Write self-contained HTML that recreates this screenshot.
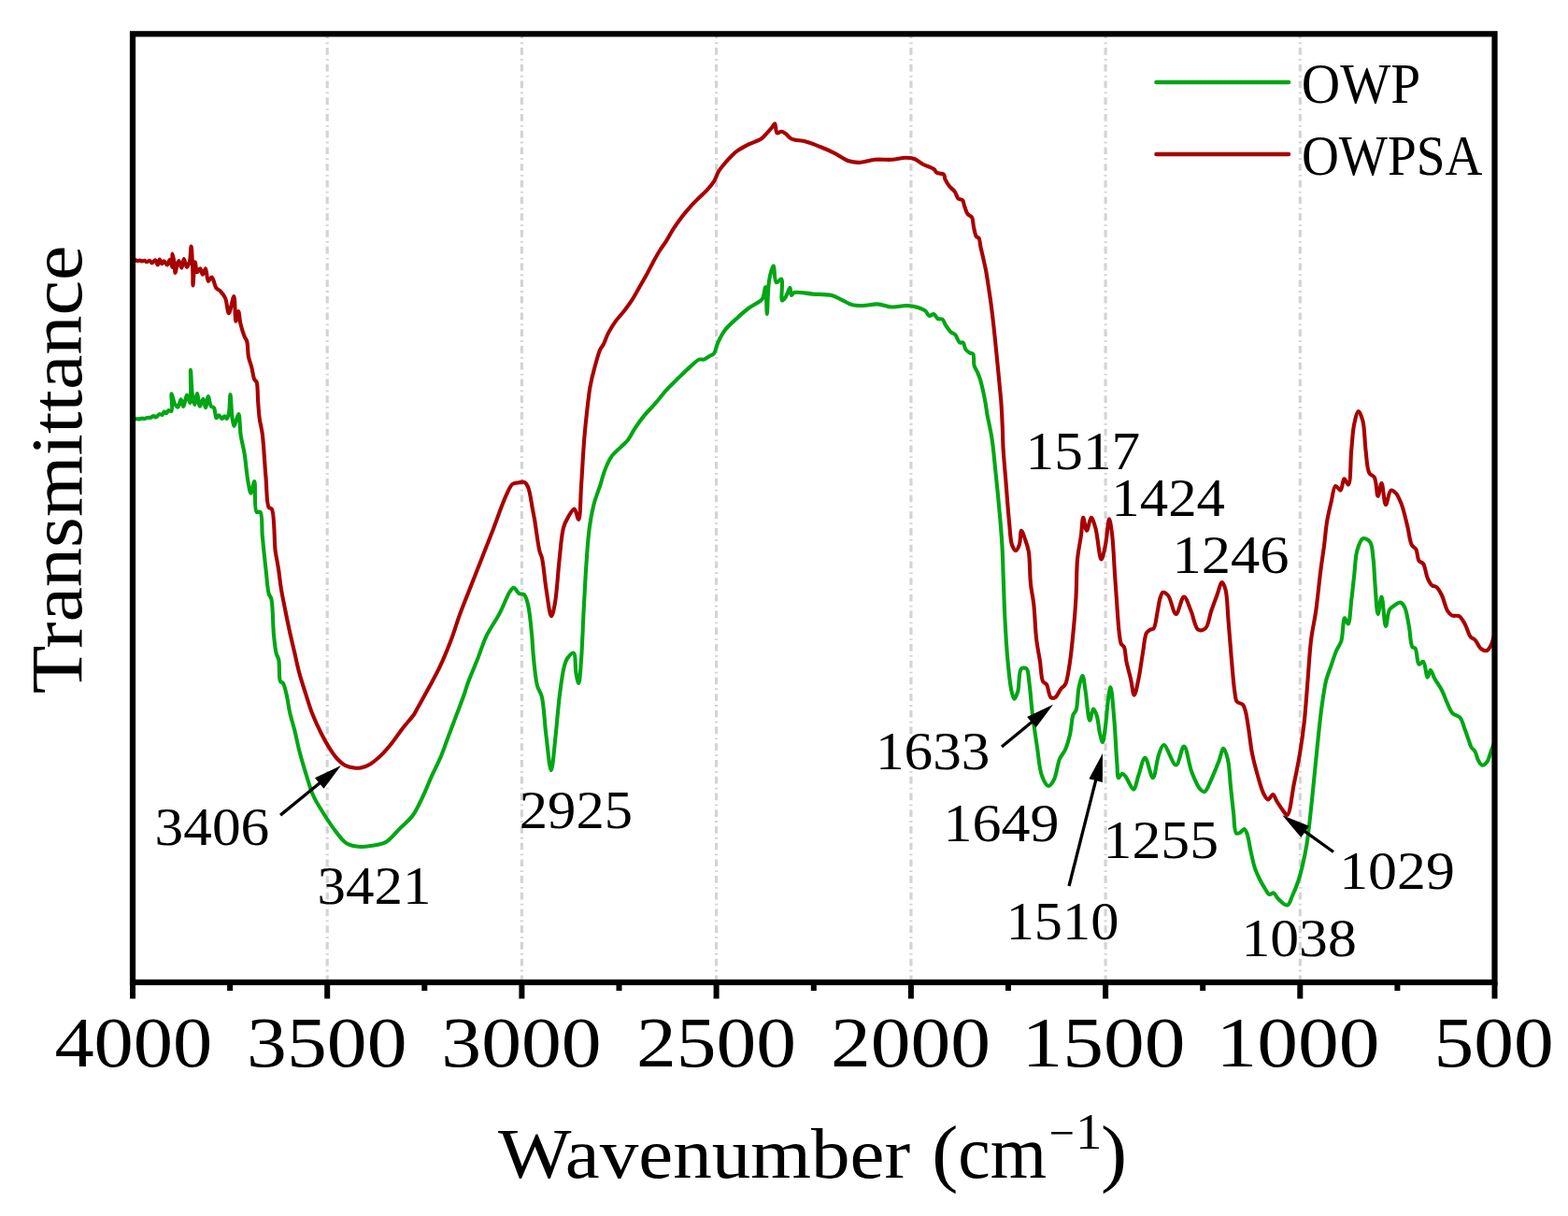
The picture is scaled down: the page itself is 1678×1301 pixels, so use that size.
<!DOCTYPE html>
<html><head><meta charset="utf-8"><title>FTIR spectra</title>
<style>html,body{margin:0;padding:0;background:#fff;}svg{display:block;}
text{font-family:"Liberation Serif","DejaVu Serif",serif;fill:#000;}</style></head>
<body>
<svg width="1678" height="1301" viewBox="0 0 1678 1301">
<rect width="1678" height="1301" fill="#fff"/>
<g stroke="#d4d4d4" stroke-width="3.2" stroke-dasharray="7.7 4.2 1.8 4.02">
<line x1="350.2" y1="33.38" x2="350.2" y2="1048"/>
<line x1="558.4" y1="33.38" x2="558.4" y2="1048"/>
<line x1="766.6" y1="33.38" x2="766.6" y2="1048"/>
<line x1="974.9" y1="33.38" x2="974.9" y2="1048"/>
<line x1="1183.1" y1="33.38" x2="1183.1" y2="1048"/>
<line x1="1391.3" y1="33.38" x2="1391.3" y2="1048"/>
</g>
<path fill="none" stroke="#00a614" stroke-width="4.1" stroke-linejoin="round" stroke-linecap="round" d="M142.5,449.0 C143.5,448.7 144.6,448.2 145.6,448.1 C146.6,448.1 147.6,448.5 148.5,448.4 C149.6,448.4 150.7,447.6 151.7,447.6 C152.7,447.5 153.7,448.0 154.7,447.9 C155.9,447.8 157.1,446.9 158.3,446.8 C159.2,446.6 160.0,447.1 160.9,446.9 C162.0,446.6 163.4,445.0 164.5,445.1 C165.3,445.1 165.8,446.6 166.6,446.5 C167.8,446.5 169.2,443.5 170.5,443.1 C171.5,442.8 172.8,444.2 173.7,443.8 C174.6,443.4 175.0,440.7 175.8,440.5 C176.5,440.4 177.3,442.3 178.0,442.2 C178.9,442.1 179.5,439.4 180.5,439.0 C181.4,438.8 182.8,440.4 183.5,439.8 C185.2,438.5 182.7,421.5 183.6,421.4 C184.3,421.3 185.6,429.6 187.1,432.2 C188.1,433.8 189.4,435.9 190.3,435.7 C191.7,435.5 192.6,427.3 193.6,427.3 C194.6,427.4 195.3,434.9 196.2,434.9 C197.4,434.9 198.8,422.6 200.1,422.5 C201.2,422.5 202.7,431.3 203.5,431.2 C205.0,430.9 203.5,395.7 204.0,395.7 C204.4,395.7 204.9,417.5 206.0,424.2 C206.6,428.0 207.5,433.0 208.2,433.0 C209.1,433.0 210.2,421.0 211.1,421.0 C212.0,421.1 212.6,434.5 213.9,434.6 C214.9,434.8 216.5,426.8 217.5,426.9 C218.6,427.0 219.1,436.2 220.0,436.2 C220.9,436.2 221.9,424.1 222.9,424.1 C223.8,424.1 224.3,432.4 225.7,434.4 C226.6,435.6 228.1,435.3 229.0,436.5 C230.4,438.6 230.3,447.0 231.5,447.3 C232.3,447.5 233.3,444.4 234.2,444.4 C235.3,444.4 236.7,448.1 237.7,448.0 C238.6,448.0 239.4,445.2 240.3,445.2 C241.0,445.2 241.8,448.0 242.5,447.9 C243.4,447.7 244.3,444.9 244.9,442.4 C246.0,437.8 245.9,422.0 246.5,422.0 C247.1,422.0 247.6,440.8 248.5,447.0 C249.1,450.8 249.7,455.9 250.5,456.0 C251.2,456.0 252.2,451.2 253.0,449.0 C253.8,446.9 254.7,442.9 255.4,443.0 C256.7,443.2 256.6,458.8 257.7,466.0 C258.7,472.6 260.3,477.6 261.5,484.6 C263.0,493.5 263.9,507.1 265.4,515.0 C266.4,520.2 267.4,527.7 268.5,527.7 C269.7,527.7 271.3,514.9 272.3,515.0 C273.8,515.2 271.6,544.9 274.6,547.7 C275.6,548.7 277.5,546.8 278.5,547.7 C281.1,550.1 279.9,564.2 280.8,573.8 C282.0,585.8 283.7,602.8 285.0,614.1 C285.9,622.3 286.3,630.7 287.7,635.3 C288.4,637.7 289.6,637.9 290.3,640.6 C292.2,647.5 291.9,668.8 293.0,679.5 C293.8,687.1 294.4,694.1 295.6,698.9 C296.4,701.9 297.6,702.9 298.3,706.0 C299.5,711.4 298.1,725.8 300.0,729.0 C300.7,730.2 301.9,729.7 302.7,730.7 C304.2,732.6 305.1,737.0 306.2,741.3 C307.8,747.5 309.0,757.4 310.6,764.3 C312.0,770.1 313.5,774.4 315.0,780.2 C316.8,787.1 318.3,795.4 320.3,803.2 C322.4,811.3 324.9,819.8 327.4,827.9 C329.9,835.9 332.1,844.3 335.4,851.5 C338.4,858.2 342.2,863.9 346.0,870.0 C349.9,876.2 354.2,882.9 358.5,888.5 C362.5,893.6 366.0,899.4 370.8,902.3 C375.2,905.0 381.0,905.7 386.0,906.0 C390.7,906.3 395.4,905.5 400.0,904.6 C404.7,903.7 409.5,903.0 413.8,900.4 C418.8,897.4 423.1,891.2 427.7,886.6 C432.3,882.0 437.5,878.2 441.5,872.8 C445.9,866.8 449.2,859.1 452.6,852.0 C456.1,844.8 458.9,837.1 462.2,829.9 C465.4,822.9 468.9,816.3 471.9,809.2 C474.9,802.0 477.4,794.4 480.2,787.0 C483.0,779.6 485.7,772.3 488.5,764.9 C491.3,757.5 494.6,749.1 496.8,742.8 C498.4,738.1 499.0,735.3 500.8,730.5 C503.4,723.3 508.1,712.6 511.5,704.0 C514.7,695.8 517.0,687.7 520.8,679.9 C524.7,671.9 530.4,664.3 534.6,656.4 C538.7,648.7 542.6,637.4 545.7,632.9 C547.2,630.8 548.3,628.7 549.8,628.7 C551.5,628.7 553.3,633.8 555.4,635.0 C557.1,636.0 559.4,635.0 560.9,636.3 C563.0,638.1 563.8,642.2 565.0,646.7 C567.0,654.6 568.3,670.6 569.2,679.9 C569.9,686.5 569.7,690.2 570.4,697.0 C571.4,707.0 572.7,725.2 575.0,733.8 C576.3,738.7 578.4,740.0 579.7,745.0 C582.1,754.2 582.6,772.2 584.3,785.5 C586.0,798.6 588.1,824.2 589.8,824.2 C591.4,824.2 593.0,801.5 594.4,789.0 C596.0,774.7 597.2,756.6 599.0,743.0 C600.4,732.1 601.8,720.5 603.7,713.5 C604.8,709.5 605.5,706.8 607.3,704.3 C609.0,702.0 612.2,698.1 613.8,698.7 C616.3,699.7 615.4,715.1 616.6,721.0 C617.4,725.0 618.5,731.1 619.3,731.0 C620.5,730.9 621.2,715.9 622.0,706.0 C623.1,691.8 623.7,671.3 624.6,653.8 C625.6,636.0 626.5,616.1 627.7,600.0 C628.6,587.0 629.3,575.3 630.8,564.6 C632.0,555.6 633.4,547.8 635.4,540.0 C637.3,532.6 640.4,525.3 642.5,518.7 C644.3,513.0 645.3,507.8 647.4,502.7 C649.4,497.6 651.8,492.1 654.8,487.9 C657.6,484.0 661.6,481.1 664.6,478.1 C667.2,475.5 669.7,473.6 672.0,470.7 C674.7,467.3 676.7,462.5 679.4,458.4 C682.4,453.9 685.6,449.3 689.2,444.9 C693.0,440.3 697.4,436.0 701.5,431.3 C705.6,426.5 709.6,421.2 713.8,416.6 C717.8,412.2 722.0,408.3 726.1,404.3 C730.2,400.3 734.5,396.1 738.4,392.6 C741.8,389.6 745.3,385.6 748.2,384.6 C750.0,384.0 751.5,385.1 753.2,384.6 C755.2,384.0 757.4,382.0 759.3,380.9 C760.9,380.0 762.5,380.0 763.8,378.5 C765.9,376.1 766.5,370.1 768.5,366.0 C770.6,361.6 772.8,357.2 776.0,353.0 C779.7,348.2 785.6,343.3 790.0,339.2 C793.8,335.7 797.0,332.8 800.8,330.0 C804.6,327.2 810.3,324.4 813.0,322.3 C814.5,321.1 815.3,320.8 816.2,319.2 C817.7,316.6 818.5,306.9 819.2,307.0 C820.3,307.1 820.2,336.0 820.8,336.0 C821.5,336.0 821.4,310.2 823.0,300.8 C824.1,294.3 826.4,284.5 827.7,284.6 C829.0,284.7 828.6,301.4 830.8,302.3 C832.2,302.9 835.0,297.9 836.2,298.5 C838.5,299.6 835.1,320.8 837.0,321.5 C837.9,321.9 839.6,319.4 840.8,317.7 C842.5,315.3 844.4,307.6 845.4,307.7 C846.3,307.8 845.8,315.7 846.9,316.0 C847.7,316.2 848.3,313.6 850.0,313.0 C853.6,311.7 863.3,314.1 870.0,314.6 C876.7,315.1 884.5,314.6 890.0,316.0 C894.3,317.1 897.2,319.1 900.8,320.8 C904.4,322.5 907.7,325.0 911.5,326.0 C915.4,327.1 919.5,327.0 923.8,327.0 C928.6,326.9 934.1,325.2 939.2,325.4 C944.4,325.6 949.5,328.3 954.6,328.5 C959.5,328.7 964.9,327.0 969.2,327.0 C972.6,327.0 975.3,327.2 978.5,328.0 C982.2,328.9 987.2,330.4 990.0,332.4 C992.1,333.9 992.9,337.5 994.6,337.9 C996.0,338.3 997.8,335.8 999.2,336.1 C1000.9,336.5 1002.1,340.2 1003.8,341.1 C1005.2,341.8 1007.2,340.7 1008.5,341.6 C1010.1,342.7 1010.7,345.9 1012.1,348.1 C1013.7,350.5 1015.8,353.7 1017.7,355.4 C1019.2,356.7 1020.9,356.8 1022.3,358.2 C1024.1,360.1 1025.1,365.4 1026.9,366.5 C1028.0,367.2 1029.6,365.8 1030.6,366.5 C1032.1,367.5 1032.0,372.0 1033.4,373.9 C1034.6,375.5 1036.5,376.8 1038.0,377.6 C1039.1,378.2 1040.4,377.6 1041.2,378.5 C1042.8,380.3 1041.5,387.8 1042.6,391.4 C1043.5,394.3 1045.2,396.3 1046.3,398.8 C1047.3,401.2 1048.2,403.5 1049.0,406.2 C1050.0,409.5 1050.9,413.4 1051.8,417.3 C1052.8,421.6 1053.8,426.7 1054.6,431.1 C1055.3,435.2 1055.6,438.3 1056.4,443.1 C1057.6,450.1 1060.1,459.8 1061.5,469.2 C1063.2,480.1 1064.1,492.6 1065.4,504.6 C1066.7,517.1 1068.1,530.2 1069.2,543.0 C1070.4,555.8 1071.5,568.7 1072.3,581.5 C1073.1,594.3 1073.3,606.9 1073.8,620.0 C1074.3,633.6 1074.7,647.3 1075.4,661.5 C1076.2,676.5 1077.2,693.9 1078.5,707.7 C1079.6,719.0 1080.7,731.3 1082.3,738.5 C1083.2,742.5 1084.2,747.6 1085.4,747.7 C1086.5,747.8 1088.1,743.4 1089.2,740.0 C1091.0,734.2 1089.9,718.0 1093.0,715.4 C1094.4,714.2 1097.1,714.3 1098.5,715.4 C1100.8,717.3 1100.6,724.8 1101.5,730.8 C1102.7,739.3 1103.5,752.0 1104.6,761.5 C1105.6,769.8 1106.7,777.7 1107.7,784.6 C1108.5,790.3 1109.1,794.0 1110.0,800.0 C1111.3,808.4 1112.2,822.7 1115.0,830.0 C1116.8,834.8 1119.6,840.8 1122.0,841.0 C1124.0,841.1 1126.3,837.2 1128.0,834.0 C1130.7,828.9 1131.5,817.8 1134.0,812.0 C1135.8,807.9 1138.3,805.8 1140.0,802.0 C1142.1,797.4 1143.6,791.8 1145.0,786.0 C1146.6,779.4 1146.8,769.0 1148.5,764.6 C1149.4,762.4 1150.7,762.3 1151.5,760.0 C1153.3,755.2 1153.1,742.2 1154.6,735.4 C1155.7,730.5 1157.4,722.9 1158.5,723.0 C1159.7,723.1 1160.5,732.4 1161.5,738.5 C1163.0,747.3 1164.4,770.7 1166.2,770.8 C1167.4,770.9 1168.6,758.6 1170.0,758.5 C1171.2,758.4 1172.8,762.8 1173.8,766.0 C1175.4,770.7 1175.7,779.5 1177.0,784.6 C1177.9,788.3 1179.1,794.1 1180.0,794.0 C1181.2,793.9 1182.1,783.5 1183.0,777.0 C1184.2,768.3 1185.0,753.8 1186.2,746.2 C1186.9,741.7 1187.7,735.4 1188.5,735.4 C1189.8,735.5 1191.2,756.9 1192.3,769.2 C1193.6,783.7 1194.4,805.5 1195.4,817.0 C1196.0,823.5 1195.5,831.9 1197.0,832.3 C1197.9,832.6 1199.5,827.8 1200.8,827.7 C1202.0,827.6 1203.2,829.2 1204.6,830.8 C1207.1,833.6 1210.7,844.8 1213.0,844.6 C1215.3,844.4 1216.5,834.6 1218.5,829.2 C1220.6,823.3 1223.0,810.8 1225.4,810.8 C1228.0,810.8 1231.4,832.5 1233.8,832.3 C1236.3,832.1 1237.6,814.1 1240.0,807.7 C1241.6,803.3 1243.1,797.1 1245.4,797.0 C1248.7,796.9 1254.8,818.8 1258.5,818.5 C1261.9,818.3 1264.4,798.4 1267.0,798.5 C1270.1,798.7 1272.1,818.0 1275.4,826.2 C1278.1,833.1 1281.5,841.5 1284.6,844.6 C1286.1,846.2 1287.7,847.5 1289.2,847.0 C1291.9,846.2 1294.5,837.5 1297.0,832.3 C1299.7,826.5 1302.4,819.4 1304.6,813.8 C1306.4,809.1 1307.6,800.8 1309.2,800.8 C1310.7,800.8 1312.6,807.3 1313.8,812.0 C1315.7,819.4 1316.0,831.8 1317.0,841.5 C1318.0,850.9 1318.9,860.5 1320.0,869.2 C1321.0,877.0 1320.5,889.7 1323.0,891.5 C1324.1,892.3 1325.7,891.4 1327.0,890.8 C1328.6,890.1 1330.2,886.8 1331.5,887.0 C1332.8,887.2 1333.7,889.9 1334.6,892.3 C1336.2,896.5 1337.1,904.7 1338.5,910.8 C1339.9,917.0 1341.2,923.9 1343.0,929.2 C1344.4,933.3 1345.9,936.4 1347.7,940.0 C1349.5,943.6 1351.8,947.8 1353.8,950.8 C1355.4,953.2 1356.7,956.5 1358.5,957.0 C1359.9,957.4 1361.6,955.0 1363.0,955.4 C1364.8,955.9 1365.7,959.5 1367.7,961.5 C1370.3,964.0 1375.1,969.1 1377.7,968.5 C1380.2,967.9 1381.3,962.2 1383.0,958.5 C1385.1,953.9 1387.4,948.3 1389.2,943.0 C1391.0,937.6 1392.4,932.3 1393.8,926.2 C1395.5,919.1 1397.0,912.3 1398.5,903.0 C1400.7,889.1 1402.7,868.0 1404.5,850.9 C1406.3,834.3 1407.7,817.7 1409.4,801.7 C1411.0,786.5 1412.5,770.6 1414.3,757.3 C1415.8,746.4 1417.2,735.8 1419.2,727.7 C1420.7,721.9 1422.4,718.1 1424.2,713.0 C1426.1,707.5 1428.2,700.7 1430.3,695.8 C1431.9,692.0 1434.0,690.1 1435.3,686.0 C1437.3,679.8 1437.1,661.7 1439.0,661.3 C1440.0,661.1 1441.7,667.6 1442.7,667.4 C1444.7,667.0 1445.2,650.2 1446.3,641.6 C1447.4,632.9 1448.2,624.1 1449.2,615.4 C1450.2,606.7 1450.3,596.3 1452.3,589.2 C1453.8,584.0 1455.7,577.2 1458.5,576.2 C1460.6,575.5 1464.4,577.6 1466.2,580.0 C1468.8,583.4 1468.7,590.6 1469.5,597.0 C1470.6,605.1 1470.7,615.4 1471.5,625.0 C1472.4,635.3 1473.2,656.9 1474.6,657.0 C1475.7,657.1 1477.3,638.5 1478.5,638.5 C1480.1,638.6 1481.3,669.9 1483.0,670.0 C1484.2,670.1 1484.7,656.1 1487.0,652.3 C1488.4,649.9 1490.4,649.0 1492.3,647.7 C1494.2,646.4 1496.7,644.3 1498.5,644.6 C1500.2,644.9 1501.7,646.9 1503.0,649.2 C1505.3,653.3 1506.3,662.3 1507.7,669.2 C1509.2,676.6 1509.2,689.2 1511.5,692.3 C1512.4,693.5 1513.7,692.7 1514.6,693.8 C1516.6,696.3 1516.3,710.0 1518.5,710.8 C1519.7,711.3 1521.7,707.2 1523.0,707.7 C1525.3,708.5 1526.2,724.5 1527.7,724.6 C1528.7,724.7 1529.6,717.0 1530.8,717.0 C1532.1,716.9 1533.6,723.0 1535.4,726.2 C1537.5,730.0 1540.8,734.2 1543.0,738.5 C1545.3,743.0 1547.0,748.4 1549.0,752.7 C1550.7,756.4 1551.7,760.2 1554.1,762.8 C1556.3,765.2 1560.5,765.5 1562.6,767.9 C1564.8,770.5 1565.4,774.3 1566.8,778.0 C1568.5,782.4 1570.5,788.5 1571.9,792.4 C1572.9,795.1 1573.2,797.2 1574.4,799.2 C1575.5,801.1 1577.4,802.2 1578.6,804.2 C1580.1,806.7 1580.5,811.0 1582.0,813.5 C1583.2,815.6 1584.6,818.4 1586.2,818.6 C1587.7,818.8 1589.9,817.0 1591.3,815.2 C1593.3,812.8 1594.2,807.7 1595.5,804.2 C1596.7,801.0 1597.8,798.1 1598.9,795.0"/>
<path fill="none" stroke="#a80000" stroke-width="4.1" stroke-linejoin="round" stroke-linecap="round" d="M142.5,278.7 C143.2,278.5 144.0,278.0 144.7,278.1 C145.4,278.2 146.0,279.2 146.8,279.3 C147.6,279.4 148.5,278.6 149.4,278.6 C150.3,278.6 151.3,279.4 152.2,279.4 C153.1,279.5 154.1,278.6 154.9,278.8 C155.7,278.9 156.2,280.2 157.0,280.3 C157.9,280.4 159.4,278.7 160.3,278.9 C161.3,279.1 161.8,281.4 162.7,281.4 C163.7,281.5 165.2,278.1 166.2,278.3 C167.3,278.5 168.1,283.6 168.8,283.5 C169.6,283.5 170.1,277.7 170.9,277.6 C171.6,277.6 172.5,282.3 173.3,282.3 C174.0,282.4 174.7,279.3 175.5,279.2 C176.5,279.2 177.8,283.5 178.8,283.4 C179.9,283.3 180.9,277.8 181.8,277.9 C182.8,278.0 183.8,285.9 184.3,285.9 C185.0,285.8 184.1,271.5 184.6,271.5 C185.0,271.5 185.9,277.1 186.4,280.3 C186.9,283.9 187.0,292.0 187.5,292.0 C187.8,292.0 188.2,289.1 188.7,287.4 C189.4,285.0 190.4,279.1 191.4,279.1 C192.3,279.0 193.5,286.8 194.3,286.7 C195.3,286.6 195.8,277.1 196.8,277.0 C197.7,277.0 198.8,285.9 199.9,285.9 C200.9,286.0 202.1,282.5 202.9,279.9 C204.0,275.9 204.1,263.5 204.6,263.5 C205.3,263.5 206.0,283.3 206.3,291.0 C206.5,296.5 206.2,305.4 206.5,305.4 C206.9,305.4 207.8,280.3 208.7,280.3 C209.4,280.2 209.7,291.0 210.9,291.3 C211.7,291.5 213.2,287.2 214.1,287.3 C215.2,287.4 215.9,293.8 216.9,293.8 C217.9,293.8 219.1,287.2 220.0,287.3 C221.2,287.5 221.4,300.5 222.9,300.9 C223.9,301.1 225.4,296.3 226.6,296.5 C228.4,296.8 229.5,305.8 231.5,308.3 C232.8,309.9 234.4,310.1 235.8,311.5 C237.6,313.4 239.7,315.9 241.1,319.0 C243.0,323.2 243.4,335.2 244.9,335.2 C246.5,335.2 249.1,316.9 250.3,317.0 C251.8,317.2 251.3,343.7 252.4,343.8 C253.1,343.9 254.3,333.0 255.1,333.0 C256.0,333.0 256.3,341.6 257.3,346.0 C258.4,350.6 260.2,356.5 261.6,360.0 C262.5,362.3 263.6,363.0 264.3,365.4 C265.4,369.3 265.0,376.7 265.9,381.5 C266.7,385.5 268.1,388.5 269.1,392.3 C270.3,396.6 271.0,403.8 272.4,406.3 C273.0,407.4 273.9,407.2 274.5,408.4 C276.0,411.6 275.6,422.2 276.1,428.9 C276.6,435.3 276.9,441.6 277.7,447.7 C278.5,453.5 279.9,457.5 280.8,464.6 C282.3,476.4 283.3,497.9 284.6,512.0 C285.6,523.4 285.1,539.2 287.7,543.0 C288.6,544.3 289.9,543.3 290.8,544.6 C294.0,549.3 293.3,579.2 294.6,589.0 C295.2,593.9 295.9,596.4 296.5,600.0 C297.1,603.6 297.7,606.5 298.3,610.6 C299.1,616.1 299.8,623.3 300.9,630.0 C302.1,637.4 303.8,645.5 305.3,653.0 C306.7,660.2 308.1,667.0 309.7,674.2 C311.3,681.7 313.2,689.5 315.0,697.2 C316.8,704.8 318.2,712.5 320.3,720.1 C322.4,727.8 325.0,735.6 327.4,743.1 C329.7,750.3 331.8,757.5 334.5,764.3 C337.1,771.0 340.2,777.6 343.3,783.7 C346.1,789.3 349.0,794.7 352.1,799.6 C354.9,804.1 357.8,808.6 361.0,812.0 C363.8,814.9 366.5,817.5 369.8,819.1 C373.0,820.7 377.3,821.4 380.4,821.7 C382.8,821.9 384.7,821.8 387.0,821.2 C389.9,820.5 393.2,819.3 396.3,817.4 C400.1,815.1 404.3,811.5 408.0,807.9 C412.0,804.0 415.8,799.4 419.6,794.7 C423.6,789.7 427.3,783.8 431.3,778.7 C435.1,773.8 440.4,768.3 443.0,764.5 C444.5,762.3 444.8,761.3 446.2,758.8 C449.0,753.8 454.4,744.1 458.5,736.6 C462.6,728.9 466.9,721.5 470.8,713.2 C475.1,704.0 479.5,693.2 483.1,683.7 C486.4,675.0 488.8,666.5 491.7,658.5 C494.4,651.0 496.9,645.0 500.0,637.0 C504.0,626.7 509.2,613.7 513.8,602.0 C518.4,590.2 523.1,578.3 527.7,566.4 C532.3,554.4 537.4,539.2 541.5,530.4 C544.0,525.1 545.7,520.1 548.4,518.0 C550.1,516.7 552.0,516.8 554.0,516.5 C556.2,516.1 559.0,515.1 560.9,515.9 C562.7,516.6 563.8,518.3 565.0,520.8 C567.3,525.6 568.7,538.6 570.0,545.0 C570.8,549.2 571.2,550.9 572.0,555.4 C573.4,563.6 575.7,582.9 577.5,590.0 C578.3,593.2 579.2,593.7 580.0,596.9 C581.7,603.9 582.8,620.0 584.6,630.8 C586.2,640.7 588.2,659.1 590.0,659.2 C591.3,659.3 592.7,651.8 593.8,646.0 C595.9,635.4 596.9,614.3 598.5,600.0 C599.9,587.4 600.7,572.9 603.0,564.6 C604.3,559.8 605.8,557.2 607.7,553.8 C609.6,550.5 612.7,544.4 614.6,544.6 C616.6,544.9 618.0,556.2 619.2,556.0 C621.2,555.7 621.1,533.1 622.0,520.0 C623.1,504.2 624.1,482.8 625.4,467.7 C626.4,456.1 627.4,446.5 628.5,437.0 C629.5,428.7 630.2,421.2 631.5,413.8 C632.8,406.9 634.4,400.4 636.2,393.8 C638.0,387.1 640.3,378.1 642.3,373.8 C643.4,371.5 644.4,371.1 645.5,369.0 C647.2,365.8 648.9,360.2 651.1,356.1 C653.3,351.9 655.8,347.9 658.5,344.1 C661.3,340.2 664.7,336.9 667.7,333.0 C670.8,328.9 674.1,324.5 676.9,320.1 C679.6,315.9 681.8,311.5 684.3,307.2 C686.8,302.9 689.3,298.7 691.7,294.3 C694.2,289.8 696.5,284.9 699.0,280.4 C701.4,276.0 703.9,271.4 706.4,267.5 C708.5,264.1 710.6,261.6 712.8,258.1 C715.4,254.0 718.2,248.7 721.1,244.2 C724.0,239.8 727.2,235.4 730.3,231.3 C733.3,227.4 736.4,223.8 739.5,220.3 C742.5,217.0 745.6,214.1 748.7,211.0 C751.8,207.9 755.3,204.9 758.0,201.8 C760.4,199.0 762.6,196.5 764.4,193.5 C766.3,190.4 767.2,186.4 769.0,183.4 C770.6,180.6 772.5,178.5 774.6,176.0 C776.8,173.3 779.5,170.2 782.0,167.7 C784.4,165.3 786.5,163.2 789.3,161.2 C792.6,158.8 796.7,156.7 800.8,154.6 C805.1,152.4 811.1,150.9 814.6,148.5 C817.3,146.7 818.8,144.4 820.8,142.3 C822.7,140.3 824.7,138.0 826.2,136.2 C827.4,134.8 828.4,132.1 829.2,132.3 C830.4,132.6 829.9,141.4 831.5,142.3 C832.6,143.0 834.7,140.7 836.2,140.8 C837.8,140.9 839.2,142.0 840.8,143.0 C842.8,144.3 844.2,147.1 846.9,148.5 C850.7,150.4 857.2,150.1 862.3,151.5 C867.5,152.9 872.6,155.0 877.7,157.0 C882.8,159.1 887.9,161.3 893.0,163.8 C898.2,166.4 903.5,170.7 908.5,172.3 C912.7,173.7 916.5,174.0 920.8,173.8 C925.7,173.6 930.8,171.3 936.2,170.8 C942.0,170.2 948.8,171.2 954.6,170.8 C959.8,170.4 964.9,168.8 969.2,168.8 C972.6,168.8 975.5,168.9 978.5,170.0 C981.7,171.2 984.4,174.0 987.7,175.8 C991.3,177.7 997.1,179.1 999.6,181.1 C1001.1,182.3 1001.0,183.9 1002.4,184.8 C1004.2,186.0 1008.3,185.2 1009.8,186.6 C1011.1,187.8 1010.7,190.2 1011.6,192.1 C1012.7,194.4 1014.4,197.3 1016.2,199.5 C1017.9,201.6 1020.3,203.0 1021.8,205.1 C1023.3,207.3 1023.8,210.9 1025.4,212.4 C1026.7,213.6 1029.0,213.1 1030.1,214.3 C1031.3,215.5 1031.2,217.7 1031.9,219.8 C1032.9,222.5 1033.9,226.8 1035.6,229.0 C1036.9,230.7 1039.1,230.9 1040.2,232.7 C1041.6,235.1 1041.2,239.5 1042.0,242.9 C1042.8,246.3 1043.4,251.1 1044.8,253.0 C1045.6,254.1 1046.9,253.8 1047.6,254.9 C1048.8,256.7 1048.7,260.8 1049.4,264.1 C1050.2,267.8 1051.3,272.0 1052.2,276.1 C1053.1,280.3 1054.1,284.3 1055.0,289.0 C1056.1,294.7 1057.1,301.8 1058.0,308.0 C1058.9,313.8 1059.7,318.6 1060.5,325.0 C1061.6,333.1 1062.8,343.5 1063.8,352.7 C1064.8,361.9 1065.7,370.9 1066.6,380.3 C1067.6,390.0 1068.6,400.8 1069.5,410.0 C1070.2,417.9 1071.0,424.6 1071.5,432.0 C1072.0,439.6 1072.4,447.2 1072.7,455.0 C1073.1,463.2 1073.1,471.1 1073.6,480.0 C1074.2,490.1 1075.2,500.6 1076.2,512.3 C1077.3,526.3 1078.7,545.5 1080.0,558.5 C1081.0,568.0 1081.1,577.7 1083.0,583.0 C1084.1,585.9 1085.7,589.2 1087.0,589.2 C1088.3,589.2 1089.8,585.6 1090.8,583.0 C1092.2,579.1 1091.8,567.9 1093.0,567.7 C1094.0,567.6 1095.8,573.6 1097.0,577.0 C1098.4,580.9 1099.8,584.5 1100.8,590.0 C1102.3,598.8 1101.9,614.8 1103.0,625.0 C1103.8,632.9 1105.3,637.9 1106.2,646.0 C1107.5,656.9 1107.8,673.4 1109.2,684.6 C1110.3,693.3 1111.8,700.1 1113.0,707.7 C1114.1,715.0 1114.0,725.4 1116.2,729.2 C1117.2,731.0 1118.9,730.7 1120.0,732.3 C1121.9,735.1 1122.3,744.5 1124.6,746.2 C1125.9,747.1 1127.7,747.0 1129.2,746.2 C1131.5,745.0 1133.4,739.5 1135.4,737.0 C1137.0,735.1 1138.7,734.7 1140.0,732.3 C1142.4,727.9 1143.3,718.8 1144.6,710.8 C1146.2,700.8 1147.4,688.6 1148.5,677.0 C1149.7,664.6 1150.8,651.5 1151.5,638.5 C1152.3,625.3 1151.9,610.4 1153.0,598.5 C1153.9,588.8 1155.9,580.3 1157.0,572.3 C1157.9,565.6 1158.1,553.9 1159.2,553.8 C1160.2,553.7 1161.6,567.7 1163.0,567.7 C1164.4,567.7 1166.1,553.9 1167.7,553.8 C1169.2,553.7 1170.9,559.9 1172.3,564.6 C1174.7,572.7 1176.4,598.4 1178.5,598.5 C1180.0,598.6 1181.7,589.0 1183.0,583.0 C1184.7,575.2 1185.7,555.4 1187.0,555.4 C1188.0,555.4 1189.1,564.3 1190.0,570.8 C1191.4,581.5 1192.0,599.2 1193.0,613.8 C1194.1,628.9 1195.3,648.4 1196.2,660.0 C1196.8,667.1 1197.0,671.8 1197.7,677.0 C1198.3,681.4 1198.6,686.6 1200.0,689.2 C1200.8,690.7 1202.2,690.7 1203.0,692.3 C1204.5,695.4 1204.3,702.4 1205.4,707.7 C1206.6,713.6 1208.6,720.1 1210.0,726.2 C1211.4,732.1 1212.4,743.8 1213.8,743.8 C1215.2,743.8 1217.1,732.8 1218.5,726.2 C1220.2,718.0 1221.5,707.1 1223.0,698.5 C1224.3,690.9 1224.8,680.8 1227.0,677.0 C1228.1,675.2 1229.5,674.6 1230.8,673.8 C1232.0,673.1 1233.5,673.5 1234.6,672.3 C1236.8,669.8 1237.3,660.9 1238.5,655.4 C1239.6,650.2 1240.2,643.9 1241.5,640.0 C1242.4,637.4 1243.1,634.2 1244.6,633.8 C1246.0,633.4 1248.3,635.1 1250.0,637.0 C1253.2,640.6 1255.6,657.0 1258.5,657.0 C1261.3,657.0 1264.2,638.5 1267.0,638.5 C1269.6,638.5 1272.2,648.3 1274.6,653.8 C1277.3,660.0 1278.7,671.8 1282.3,673.8 C1284.5,675.0 1287.9,674.1 1290.0,672.3 C1293.3,669.4 1294.1,659.8 1296.2,653.8 C1298.2,648.1 1300.3,642.3 1302.3,637.0 C1304.1,632.1 1306.0,623.1 1307.7,623.0 C1309.0,622.9 1310.5,627.2 1311.5,630.8 C1313.5,638.0 1313.6,653.0 1314.6,664.6 C1315.7,677.0 1316.6,690.2 1317.7,703.0 C1318.9,715.8 1320.1,733.1 1321.5,741.5 C1322.2,745.7 1322.1,748.7 1323.8,750.8 C1325.2,752.5 1328.5,752.2 1330.0,753.8 C1331.7,755.6 1332.1,758.3 1333.0,761.5 C1334.3,766.3 1335.1,773.3 1336.2,780.0 C1337.5,788.0 1338.3,797.6 1340.0,806.2 C1341.7,814.6 1344.0,823.2 1346.2,830.8 C1348.1,837.4 1350.0,844.8 1352.3,849.2 C1353.8,852.0 1355.3,855.3 1357.0,855.4 C1358.7,855.5 1360.8,849.8 1362.3,850.0 C1363.9,850.2 1364.7,854.5 1366.2,857.0 C1368.0,859.9 1370.3,863.5 1372.3,866.2 C1374.0,868.4 1376.0,872.4 1377.5,872.0 C1380.7,871.1 1382.5,849.6 1384.8,838.5 C1387.0,827.7 1389.2,817.4 1391.0,806.5 C1392.9,795.2 1394.4,784.2 1395.8,772.0 C1397.3,758.2 1398.3,742.5 1399.5,727.7 C1400.7,712.9 1401.5,696.6 1403.2,683.4 C1404.6,672.5 1406.7,664.6 1408.2,653.9 C1410.0,641.2 1411.5,624.6 1413.1,612.0 C1414.4,601.7 1415.8,593.1 1417.0,584.0 C1418.1,575.3 1418.7,566.6 1420.0,558.5 C1421.2,551.0 1423.0,543.7 1424.6,537.0 C1426.1,531.0 1426.9,520.7 1429.2,520.0 C1430.7,519.5 1433.2,525.0 1434.6,524.6 C1436.5,524.0 1436.8,512.6 1438.5,512.3 C1439.8,512.1 1441.8,518.8 1443.0,518.5 C1445.6,517.8 1445.1,492.9 1446.2,481.5 C1447.2,471.6 1447.5,461.4 1449.2,453.8 C1450.4,448.3 1452.2,440.1 1453.8,440.0 C1455.3,439.9 1457.3,446.2 1458.5,450.8 C1460.4,458.3 1460.3,471.8 1461.5,481.5 C1462.6,490.2 1462.7,501.5 1465.4,506.2 C1466.8,508.7 1469.4,508.4 1470.8,510.8 C1473.2,514.9 1473.2,530.7 1474.6,530.8 C1475.8,530.9 1477.3,516.9 1478.5,517.0 C1480.1,517.1 1481.1,539.9 1483.0,540.0 C1484.6,540.1 1486.0,525.5 1488.5,524.6 C1490.0,524.0 1492.2,526.0 1493.8,527.7 C1496.2,530.3 1498.1,535.2 1500.0,540.0 C1502.4,546.4 1504.3,555.6 1506.2,563.0 C1507.9,569.9 1508.5,578.8 1510.8,583.0 C1512.1,585.4 1514.2,585.6 1515.4,587.7 C1517.1,590.7 1516.7,597.5 1518.5,600.0 C1519.7,601.7 1521.7,601.3 1523.0,603.0 C1525.2,606.0 1525.9,614.3 1527.7,618.5 C1529.1,621.6 1530.4,624.5 1532.3,626.2 C1533.8,627.6 1536.1,627.1 1537.7,628.5 C1539.8,630.3 1541.3,633.6 1543.0,637.0 C1545.2,641.6 1546.8,650.1 1549.2,653.8 C1550.6,656.1 1551.9,657.6 1553.8,658.5 C1555.9,659.5 1559.3,658.0 1561.5,659.2 C1564.1,660.7 1565.8,664.4 1567.7,667.7 C1570.0,671.6 1571.4,678.7 1573.8,681.5 C1575.2,683.2 1577.0,683.1 1578.5,684.6 C1580.6,686.7 1582.2,691.9 1584.6,693.8 C1586.5,695.3 1589.0,696.7 1590.8,696.2 C1592.6,695.7 1594.2,693.0 1595.4,690.8 C1596.8,688.2 1597.5,684.6 1598.5,681.5"/>
<rect x="142" y="36.3" width="1457.5" height="1014.7" fill="none" stroke="#000" stroke-width="6.2"/>
<g stroke="#000" stroke-width="6"><line x1="142.0" y1="1051" x2="142.0" y2="1068.5"/><line x1="350.2" y1="1051" x2="350.2" y2="1068.5"/><line x1="558.4" y1="1051" x2="558.4" y2="1068.5"/><line x1="766.6" y1="1051" x2="766.6" y2="1068.5"/><line x1="974.9" y1="1051" x2="974.9" y2="1068.5"/><line x1="1183.1" y1="1051" x2="1183.1" y2="1068.5"/><line x1="1391.3" y1="1051" x2="1391.3" y2="1068.5"/><line x1="1599.5" y1="1051" x2="1599.5" y2="1068.5"/><line x1="246.1" y1="1051" x2="246.1" y2="1060"/><line x1="454.3" y1="1051" x2="454.3" y2="1060"/><line x1="662.5" y1="1051" x2="662.5" y2="1060"/><line x1="870.8" y1="1051" x2="870.8" y2="1060"/><line x1="1079.0" y1="1051" x2="1079.0" y2="1060"/><line x1="1287.2" y1="1051" x2="1287.2" y2="1060"/><line x1="1495.4" y1="1051" x2="1495.4" y2="1060"/></g>
<text x="58.4" y="1141.0" font-size="76.69" textLength="168.9" lengthAdjust="spacingAndGlyphs">4000</text>
<text x="264.1" y="1141.0" font-size="76.69" textLength="171.4" lengthAdjust="spacingAndGlyphs">3500</text>
<text x="472.3" y="1141.0" font-size="76.69" textLength="171.4" lengthAdjust="spacingAndGlyphs">3000</text>
<text x="680.9" y="1141.0" font-size="76.69" textLength="171.0" lengthAdjust="spacingAndGlyphs">2500</text>
<text x="889.1" y="1141.0" font-size="76.69" textLength="171.0" lengthAdjust="spacingAndGlyphs">2000</text>
<text x="1093.4" y="1141.0" font-size="76.69" textLength="175.0" lengthAdjust="spacingAndGlyphs">1500</text>
<text x="1301.6" y="1141.0" font-size="76.69" textLength="175.0" lengthAdjust="spacingAndGlyphs">1000</text>
<text x="1534.5" y="1141.0" font-size="76.69" textLength="128.2" lengthAdjust="spacingAndGlyphs">500</text>
<text x="532.9" y="1260.4" font-size="76.39" textLength="441.3" lengthAdjust="spacingAndGlyphs">Wavenumber</text>
<text x="997.3" y="1260.4" font-size="80.00" textLength="28.1" lengthAdjust="spacingAndGlyphs">(</text>
<text x="1025.2" y="1260.4" font-size="80.00" textLength="94.8" lengthAdjust="spacingAndGlyphs">cm</text>
<text x="1122.6" y="1228.6" font-size="50.00" textLength="27.3" lengthAdjust="spacingAndGlyphs">−</text>
<text x="1151.0" y="1228.8" font-size="53.93" textLength="28.4" lengthAdjust="spacingAndGlyphs">1</text>
<text x="1178.1" y="1260.4" font-size="80.00" textLength="28.1" lengthAdjust="spacingAndGlyphs">)</text>
<g transform="translate(86.5,1006.2) rotate(-90)"><text x="263.9" y="0.0" font-size="78.54" textLength="479.8" lengthAdjust="spacingAndGlyphs">Transmittance</text></g>
<line x1="1237.5" y1="88" x2="1379" y2="88" stroke="#00a614" stroke-width="4.6" stroke-linecap="round"/>
<line x1="1237.5" y1="165" x2="1379" y2="165" stroke="#a80000" stroke-width="4.6" stroke-linecap="round"/>
<text x="1392.8" y="110.0" font-size="61.92" textLength="127.4" lengthAdjust="spacingAndGlyphs">OWP</text>
<text x="1392.9" y="187.0" font-size="61.92" textLength="193.5" lengthAdjust="spacingAndGlyphs">OWPSA</text>
<text x="165.5" y="903.6" font-size="56.39" textLength="122.8" lengthAdjust="spacingAndGlyphs">3406</text>
<text x="339.4" y="967.0" font-size="56.64" textLength="122.0" lengthAdjust="spacingAndGlyphs">3421</text>
<text x="555.8" y="886.0" font-size="56.64" textLength="121.2" lengthAdjust="spacingAndGlyphs">2925</text>
<text x="936.9" y="822.7" font-size="56.64" textLength="122.5" lengthAdjust="spacingAndGlyphs">1633</text>
<text x="1009.6" y="899.6" font-size="56.64" textLength="124.0" lengthAdjust="spacingAndGlyphs">1649</text>
<text x="1076.7" y="1005.0" font-size="56.39" textLength="120.6" lengthAdjust="spacingAndGlyphs">1510</text>
<text x="1097.6" y="502.3" font-size="56.80" textLength="122.7" lengthAdjust="spacingAndGlyphs">1517</text>
<text x="1189.3" y="552.3" font-size="56.64" textLength="121.7" lengthAdjust="spacingAndGlyphs">1424</text>
<text x="1254.5" y="612.5" font-size="56.64" textLength="125.1" lengthAdjust="spacingAndGlyphs">1246</text>
<text x="1180.6" y="918.4" font-size="56.64" textLength="123.4" lengthAdjust="spacingAndGlyphs">1255</text>
<text x="1328.4" y="1023.3" font-size="56.39" textLength="123.4" lengthAdjust="spacingAndGlyphs">1038</text>
<text x="1433.2" y="950.6" font-size="56.39" textLength="123.7" lengthAdjust="spacingAndGlyphs">1029</text>
<line x1="300.1" y1="872.1" x2="344.9" y2="835.5" stroke="#000" stroke-width="3.3"/><polygon points="365.0,819.0 346.5,843.8 337.0,832.2" fill="#000"/>
<line x1="1072.0" y1="799.0" x2="1106.9" y2="770.3" stroke="#000" stroke-width="3.3"/><polygon points="1127.0,753.8 1108.6,778.6 1099.1,767.1" fill="#000"/>
<line x1="1144.0" y1="948.0" x2="1173.6" y2="831.2" stroke="#000" stroke-width="3.3"/><polygon points="1180.0,806.0 1179.9,836.9 1165.4,833.2" fill="#000"/>
<line x1="1427.0" y1="911.5" x2="1393.4" y2="887.4" stroke="#000" stroke-width="3.3"/><polygon points="1372.3,872.3 1401.1,883.7 1392.3,895.9" fill="#000"/>
</svg>
</body></html>
